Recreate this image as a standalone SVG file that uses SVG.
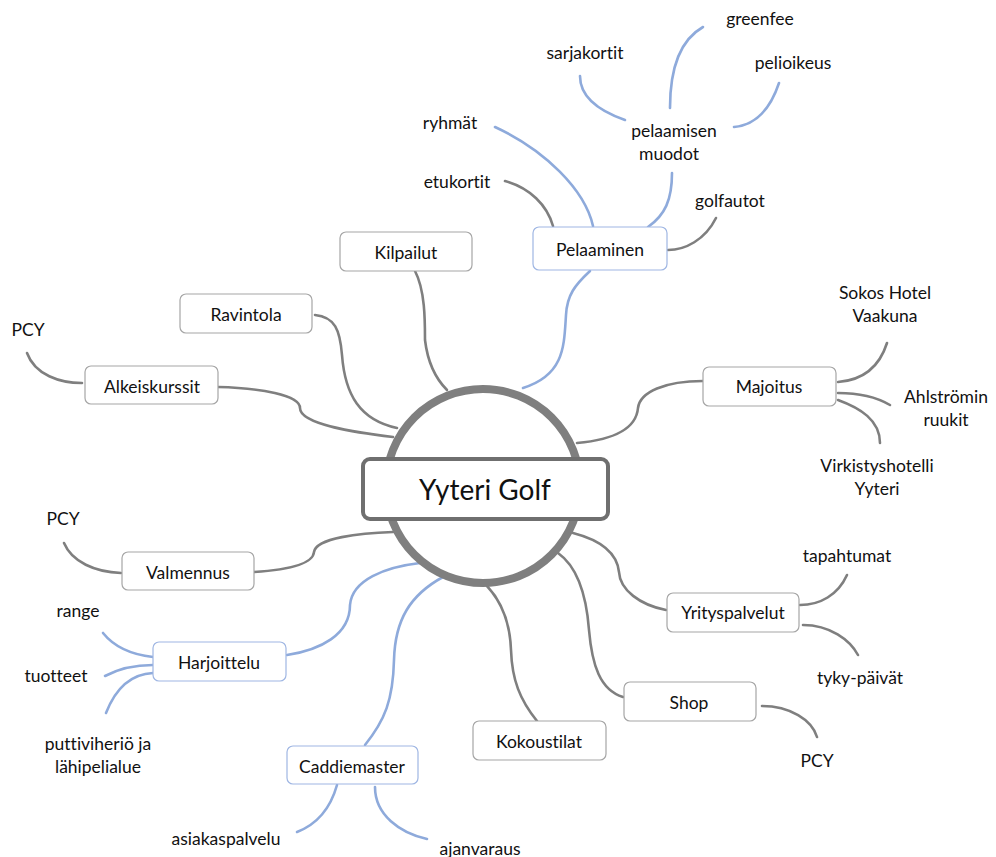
<svg xmlns="http://www.w3.org/2000/svg" width="996" height="857" viewBox="0 0 996 857">
<style>
text{font-family:Lato,"Liberation Sans",sans-serif;font-size:17.5px;fill:#111;text-anchor:middle;dominant-baseline:central;font-variant-ligatures:none}
.g{fill:none;stroke:#7f7f7f;stroke-width:2.6;stroke-linecap:round}
.b{fill:none;stroke:#8eaadb;stroke-width:2.6;stroke-linecap:round}
.n{fill:#fff;stroke:#a6a6a6;stroke-width:1.2}
.nb{fill:#fff;stroke:#9fb6e3;stroke-width:1.2}
</style>
<rect width="996" height="857" fill="#fff"/>
<g id="connectors">
<path class="g" d="M27,353 C35,375 60,383 82,383"/>
<path class="g" d="M218,387 C260,388 300,395 300,408 C300,425 360,433 393,437"/>
<path class="g" d="M315,315 C335,317 340,330 342,355 C345,395 360,420 397,428"/>
<path class="g" d="M415,271 C425,290 425,320 425,340 C428,365 437,380 447,390"/>
<path class="b" d="M590,271 C575,285 567,295 566,315 C564,345 565,375 523,388"/>
<path class="b" d="M495,127 C545,150 585,190 593,226"/>
<path class="g" d="M505,181 C530,188 547,205 553,226"/>
<path class="g" d="M716,218 C705,240 685,250 668,250"/>
<path class="b" d="M648,227 C665,215 672,200 672,173"/>
<path class="b" d="M580,76 C580,100 605,113 625,120"/>
<path class="b" d="M703,27 C680,40 670,70 670,108"/>
<path class="b" d="M779,83 C770,110 755,125 734,127"/>
<path class="g" d="M703,381 C665,381 640,392 638,408 C636,430 610,440 577,443"/>
<path class="g" d="M887,343 C880,365 865,380 838,382"/>
<path class="g" d="M838,393 C860,393 878,398 890,405"/>
<path class="g" d="M838,400 C860,408 880,420 880,443"/>
<path class="g" d="M64,543 C72,562 95,572 121,573"/>
<path class="g" d="M254,572 C285,570 313,565 314,552 C316,538 360,533 393,532"/>
<path class="b" d="M287,655 C320,650 350,635 350,605 C352,580 385,567 420,563"/>
<path class="b" d="M103,633 C115,648 135,655 153,657"/>
<path class="b" d="M105,676 C120,668 135,665 153,665"/>
<path class="b" d="M106,713 C115,690 130,674 153,673"/>
<path class="b" d="M365,745 C385,720 393,700 394,660 C395,620 410,595 443,577"/>
<path class="b" d="M337,785 C330,810 315,825 297,832"/>
<path class="b" d="M375,787 C375,815 400,833 427,839"/>
<path class="g" d="M537,721 C520,700 512,680 511,650 C510,620 500,600 487,586"/>
<path class="g" d="M623,697 C600,690 592,665 589,630 C586,590 575,565 558,553"/>
<path class="g" d="M762,706 C790,706 812,720 817,737"/>
<path class="g" d="M666,610 C640,605 620,590 619,572 C617,553 600,540 573,533"/>
<path class="g" d="M847,575 C838,595 820,605 800,605"/>
<path class="g" d="M803,625 C830,625 850,640 858,655"/>
</g>
<g id="center">
<circle cx="483" cy="486" r="97" fill="#fff" stroke="#7f7f7f" stroke-width="8"/>
<rect x="363" y="459" width="245" height="60" rx="7" fill="#fff" stroke="#6f6f6f" stroke-width="4"/>
<text x="485" y="489" style="font-size:28px">Yyteri Golf</text>
</g>
<g id="kilpailut"><rect class="n" x="340" y="232" width="132" height="39" rx="6"/><text x="406" y="252">Kilpailut</text></g>
<g id="ravintola"><rect class="n" x="180" y="294" width="132" height="39" rx="6"/><text x="246" y="314">Ravintola</text></g>
<g id="alkeiskurssit"><rect class="n" x="85" y="366" width="133" height="38" rx="6"/><text x="152" y="386">Alkeiskurssit</text></g>
<g id="pcy1"><text x="28" y="329">PCY</text></g>
<g id="pelaaminen"><rect class="nb" x="533" y="227" width="134" height="43" rx="6"/><text x="600" y="249">Pelaaminen</text></g>
<g id="ryhmat"><text x="450" y="122">ryhmät</text></g>
<g id="etukortit"><text x="457" y="181">etukortit</text></g>
<g id="golfautot"><text x="730" y="200">golfautot</text></g>
<g id="muodot"><text x="674" y="130">pelaamisen</text><text x="669" y="153">muodot</text></g>
<g id="sarjakortit"><text x="585" y="52">sarjakortit</text></g>
<g id="greenfee"><text x="760" y="18">greenfee</text></g>
<g id="pelioikeus"><text x="793" y="62">pelioikeus</text></g>
<g id="majoitus"><rect class="n" x="703" y="367" width="133" height="39" rx="6"/><text x="769" y="386">Majoitus</text></g>
<g id="sokos"><text x="885" y="292">Sokos Hotel</text><text x="885" y="315">Vaakuna</text></g>
<g id="ahlstromin"><text x="946" y="396">Ahlströmin</text><text x="946" y="419">ruukit</text></g>
<g id="virkistys"><text x="877" y="465">Virkistyshotelli</text><text x="877" y="488">Yyteri</text></g>
<g id="valmennus"><rect class="n" x="122" y="552" width="132" height="38" rx="6"/><text x="188" y="572">Valmennus</text></g>
<g id="pcy2"><text x="63" y="518">PCY</text></g>
<g id="harjoittelu"><rect class="nb" x="153" y="642" width="133" height="39" rx="6"/><text x="219" y="662">Harjoittelu</text></g>
<g id="range"><text x="78" y="610">range</text></g>
<g id="tuotteet"><text x="56" y="675">tuotteet</text></g>
<g id="putti"><text x="98" y="743">puttiviheriö ja</text><text x="98" y="766">lähipelialue</text></g>
<g id="caddiemaster"><rect class="nb" x="287" y="746" width="131" height="38" rx="6"/><text x="352" y="766">Caddiemaster</text></g>
<g id="asiakaspalvelu"><text x="226" y="838">asiakaspalvelu</text></g>
<g id="ajanvaraus"><text x="480" y="848">ajanvaraus</text></g>
<g id="kokoustilat"><rect class="n" x="473" y="721" width="133" height="39" rx="6"/><text x="539" y="741">Kokoustilat</text></g>
<g id="shop"><rect class="n" x="624" y="682" width="132" height="39" rx="6"/><text x="689" y="702">Shop</text></g>
<g id="pcy3"><text x="817" y="760">PCY</text></g>
<g id="yrityspalvelut"><rect class="n" x="667" y="593" width="132" height="39" rx="6"/><text x="733" y="612">Yrityspalvelut</text></g>
<g id="tapahtumat"><text x="847" y="555">tapahtumat</text></g>
<g id="tyky"><text x="860" y="677">tyky-päivät</text></g>
</svg>
